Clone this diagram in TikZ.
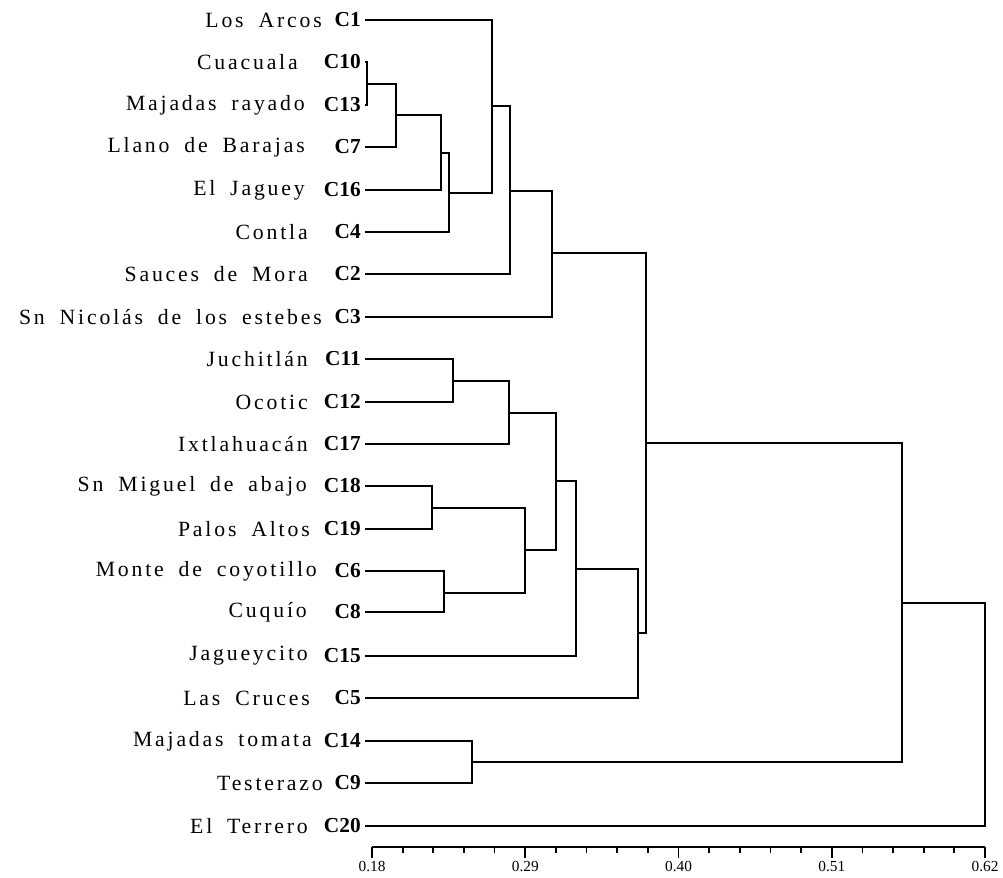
\documentclass[tikz,border=0pt]{standalone}
\usepackage{fontspec}
\usetikzlibrary{calc}
\setmainfont{Liberation Serif}
\newfontfamily\namefont[LetterSpace=13,WordSpace=1.8]{Liberation Serif}
\begin{document}
\begin{tikzpicture}[x=0.75pt,y=-0.75pt,
  nm/.style={anchor=east, inner sep=0pt, font=\namefont\fontsize{16.3}{18}\selectfont},
  cd/.style={anchor=east, inner sep=0pt, font=\bfseries\fontsize{16}{18}\selectfont},
  br/.style={line width=1.55pt, black, line join=miter},
  ax/.style={line width=1.3pt, black},
  tl/.style={anchor=north, inner sep=0pt, font=\fontsize{11.5}{13}\selectfont}]
\useasboundingbox (0,0) rectangle (1003,878);
% leaves: code/name/y/name right edge
\foreach \c/\n/\y/\r in {
  1/Los Arcos/20/322,
  10/Cuacuala/62/298,
  13/Majadas rayado/105/305,
  7/Llano de Barajas/147/305,
  16/El Jaguey/190/305,
  4/Contla/232/308,
  2/Sauces de Mora/274/308,
  3/Sn Nicolás de los estebes/317/322,
  11/Juchitlán/359/308,
  12/Ocotic/402/308,
  17/Ixtlahuacán/444/308,
  18/Sn Miguel de abajo/486/307,
  19/Palos Altos/529/310,
  6/Monte de coyotillo/571/317,
  8/Cuquío/612/307,
  15/Jagueycito/656/308,
  5/Las Cruces/698/310,
  14/Majadas tomata/741/312,
  9/Testerazo/783/323,
  20/El Terrero/826/308}{
  \node[nm] (n\c) at (\r,\y) {\n};
  \node[cd] (c\c) at (361,\y) {C\c};
  \coordinate (l\c) at (365,\y);
}
% merge points
\coordinate (m1013) at (367,84);
\coordinate (m7) at (396,115);
\coordinate (m16) at (441,153);
\coordinate (m4) at (449,193);
\coordinate (m1) at (492,106);
\coordinate (m2) at (510,191);
\coordinate (m3) at (552,253);
\coordinate (m1112) at (453,381);
\coordinate (m17) at (509,413);
\coordinate (m1819) at (432,508);
\coordinate (m68) at (444,593);
\coordinate (m1868) at (525,550);
\coordinate (mB) at (556,481);
\coordinate (m15) at (576,569);
\coordinate (m5) at (638,633);
\coordinate (mT) at (646,443);
\coordinate (m149) at (472,762);
\coordinate (mX) at (902,603);
\coordinate (mR) at (985,714);
% branches
\draw[br] (l10) -| (m1013) |- (l13);
\draw[br] (m1013) -| (m7) |- (l7);
\draw[br] (m7) -| (m16) |- (l16);
\draw[br] (m16) -| (m4) |- (l4);
\draw[br] (l1) -| (m1) |- (m4);
\draw[br] (m1) -| (m2) |- (l2);
\draw[br] (m2) -| (m3) |- (l3);
\draw[br] (l11) -| (m1112) |- (l12);
\draw[br] (m1112) -| (m17) |- (l17);
\draw[br] (l18) -| (m1819) |- (l19);
\draw[br] (l6) -| (m68) |- (l8);
\draw[br] (m1819) -| (m1868) |- (m68);
\draw[br] (m17) -| (mB) |- (m1868);
\draw[br] (mB) -| (m15) |- (l15);
\draw[br] (m15) -| (m5) |- (l5);
\draw[br] (m3) -| (mT) |- (m5);
\draw[br] (l14) -| (m149) |- (l9);
\draw[br] (mT) -| (mX) |- (m149);
\draw[br] (mX) -| (mR) |- (l20);
% axis
\coordinate (a0) at (372,847);
\coordinate (a1) at (985,847);
\draw[ax] (a0) -- (a1);
\foreach \k in {1,2,3,4,6,7,8,9,11,12,13,14,16,17,18,19}{
  \draw[ax] ($(a0)+(\k*30.65,0)$) -- ++(0,6);
}
\foreach \k/\v in {0/0.18,5/0.29,10/0.40,15/0.51,20/0.62}{
  \draw[ax] ($(a0)+(\k*30.65,0)$) -- ++(0,11);
  \node[tl] (t\k) at ($(a0)+(\k*30.65,14)$) {\v};
}
\end{tikzpicture}
\end{document}
